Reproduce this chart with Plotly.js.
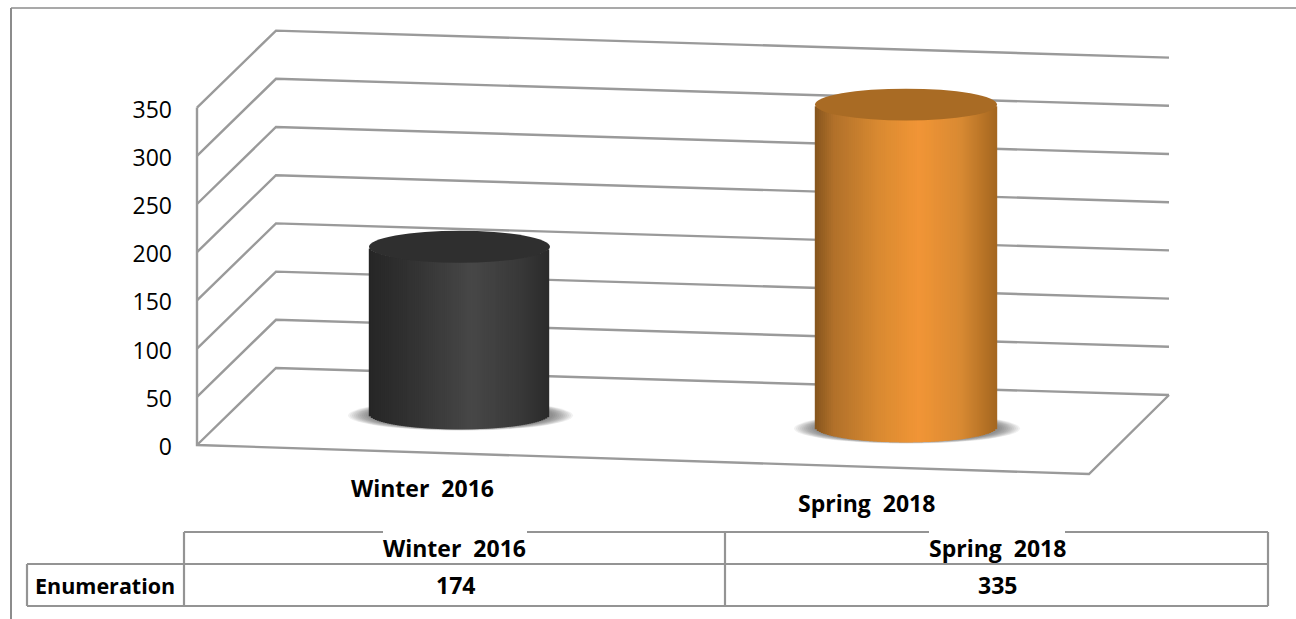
<!DOCTYPE html>
<html><head><meta charset="utf-8">
<script src="https://cdn.plot.ly/plotly-3.0.1.min.js"></script>
<style>html,body{margin:0;padding:0;background:#fff;overflow:hidden}#c{width:1296px;height:619px}</style>
</head><body><div id="c"></div>
<script>
// ---- data ----
const categories = ['Winter  2016', 'Spring  2018'];
const enumeration = [174, 335];
const yTicks = [0, 50, 100, 150, 200, 250, 300, 350];
const rowLabel = 'Enumeration';

// ---- page geometry ----
const W = 1296, H = 619;
const PX_PER_UNIT = 0.964, ZERO_PX = 445;
const toUnits = px => (ZERO_PX - px) / PX_PER_UNIT;       // page y -> value units (front plane)
const yRange = [toUnits(H), toUnits(0)];
const px = x => x / W, py = y => 1 - y / H;

// perspective corners of the floor (page x, floor page y)
const FL = [197, 445], BL = [276, 368], BR = [1169, 395], FR = [1089, 474];

const cylinders = [
  {left: 369, right: 550, floor: 414,
   stops: [[0,'#262626'],[0.2,'#303030'],[0.57,'#474747'],[0.85,'#383838'],[1,'#2a2a2a']], top: '#2f2f2f'},
  {left: 815, right: 997, floor: 427,
   stops: [[0,'#85541d'],[0.1,'#b0702a'],[0.35,'#d98a31'],[0.57,'#f19536'],[0.8,'#d98a33'],[1,'#a4661f']], top: '#a96b24'}
];
const RY = 16;   // ellipse half height, value units

function hex(c){return [1,3,5].map(i=>parseInt(c.substr(i,2),16));}
function mix(stops,t){
  for(let i=1;i<stops.length;i++){ if(t<=stops[i][0]){
    const a=stops[i-1],b=stops[i],f=(t-a[0])/(b[0]-a[0]),A=hex(a[1]),B=hex(b[1]);
    return 'rgb('+A.map((v,k)=>Math.round(v+(B[k]-v)*f)).join(',')+')';
  }}
  return stops[stops.length-1][1];
}

const GRID = '#9a9a9a';
const traces = [];
// back walls and side wall: one polyline per tick
yTicks.forEach(v => {
  traces.push({type:'scatter',mode:'lines',xaxis:'x',yaxis:'y',hoverinfo:'skip',showlegend:false,
    x:[FL[0],BL[0],BR[0]],
    y:[toUnits(FL[1])+v,toUnits(BL[1])+v,toUnits(BR[1])+v],
    line:{color:GRID,width:2.4}});
});
// floor front edges and axis line
traces.push({type:'scatter',mode:'lines',xaxis:'x',yaxis:'y',hoverinfo:'skip',showlegend:false,
  x:[BR[0],FR[0],FL[0],FL[0]],
  y:[toUnits(BR[1]),toUnits(FR[1]),toUnits(FL[1]),toUnits(FL[1])+yTicks[yTicks.length-1]],
  line:{color:GRID,width:2.4}});

const shapes = [];
cylinders.forEach((c,i) => {
  const cx=(c.left+c.right)/2, rx=(c.right-c.left)/2, floorU=toUnits(c.floor);
  // soft floor shadow
  for(let k=0;k<11;k++){
    const grow=22-k*2;
    shapes.push({type:'circle',layer:'below',xref:'x',yref:'y',
      x0:cx-rx-grow+1,x1:cx+rx+grow+1,
      y0:floorU-RY+1-grow*0.1,y1:floorU+RY-4+grow*0.1,
      fillcolor:'rgba(70,70,70,0.075)',line:{width:0}});
  }
  const xs=[],ys=[],bases=[],cols=[];
  for(let x=c.left+1;x<c.right;x+=2){
    const t=(x-cx)/rx;
    xs.push(x);
    ys.push(enumeration[i]);
    bases.push(floorU-RY*Math.sqrt(Math.max(0,1-t*t)));
    cols.push(mix(c.stops,(x-c.left)/(c.right-c.left)));
  }
  traces.push({type:'bar',xaxis:'x2',yaxis:'y2',name:categories[i],showlegend:false,hoverinfo:'skip',
    x:xs,y:ys,base:bases,width:2.4,marker:{color:cols,line:{width:0}}});
  // top face
  shapes.push({type:'circle',layer:'above',xref:'x2',yref:'y2',
    x0:c.left,x1:c.right,y0:floorU+enumeration[i]-RY-1,y1:floorU+enumeration[i]+RY,
    fillcolor:c.top,line:{width:0}});
});

// frame and table rules
const LINE='#949494';
function rule(x0,y0,x1,y1,w,color){
  shapes.push({type:'line',xref:'paper',yref:'paper',x0:px(x0),x1:px(x1),y0:py(y0),y1:py(y1),
    line:{color:color||LINE,width:w||2.2},layer:'above'});
}
rule(11,8,W,8,1.5,'#8c8c8c'); rule(11,8,11,H,2,'#8c8c8c');
rule(184,532,383,532); rule(527,532,929,532); rule(1065,532,1268,532);
rule(27,564,1268,564); rule(27,606,1268,606);
rule(27,564,27,606); rule(184,532,184,606); rule(725,532,725,606); rule(1268,532,1268,606);

const FONT='"Open Sans", sans-serif';
const note=(text,x,y,size)=>({text:text.replace(/ /g,'\u00a0'),xref:'paper',yref:'paper',x:px(x),y:py(y),showarrow:false,
  xanchor:'center',yanchor:'middle',font:{family:FONT,size:size||23,color:'#000',weight:700}});
const annotations=[
  note(categories[0],422,488), note(categories[1],866,503),
  note(categories[0],454,548), note(categories[1],997,548),
  note(rowLabel,105,585,21.5),
  note(String(enumeration[0]),455,585), note(String(enumeration[1]),997,585)
];

const layout={
  width:W,height:H,margin:{l:0,r:0,t:0,b:0},paper_bgcolor:'#fff',plot_bgcolor:'rgba(0,0,0,0)',
  showlegend:false,barmode:'overlay',
  xaxis:{range:[0,W],visible:false,fixedrange:true},
  xaxis2:{range:[0,W],visible:false,overlaying:'x',fixedrange:true},
  yaxis:{range:yRange,anchor:'free',position:px(FL[0]),tickmode:'array',tickvals:yTicks,ticktext:yTicks.map(String),
    showgrid:false,zeroline:false,showline:false,ticks:'',ticklabelstandoff:25,ticklabelshift:2,fixedrange:true,
    tickfont:{family:FONT,size:23,color:'#000'}},
  yaxis2:{range:yRange,visible:false,overlaying:'y',fixedrange:true},
  shapes:shapes,annotations:annotations
};
Plotly.newPlot('c',traces,layout,{displayModeBar:false,staticPlot:true});
</script></body></html>
